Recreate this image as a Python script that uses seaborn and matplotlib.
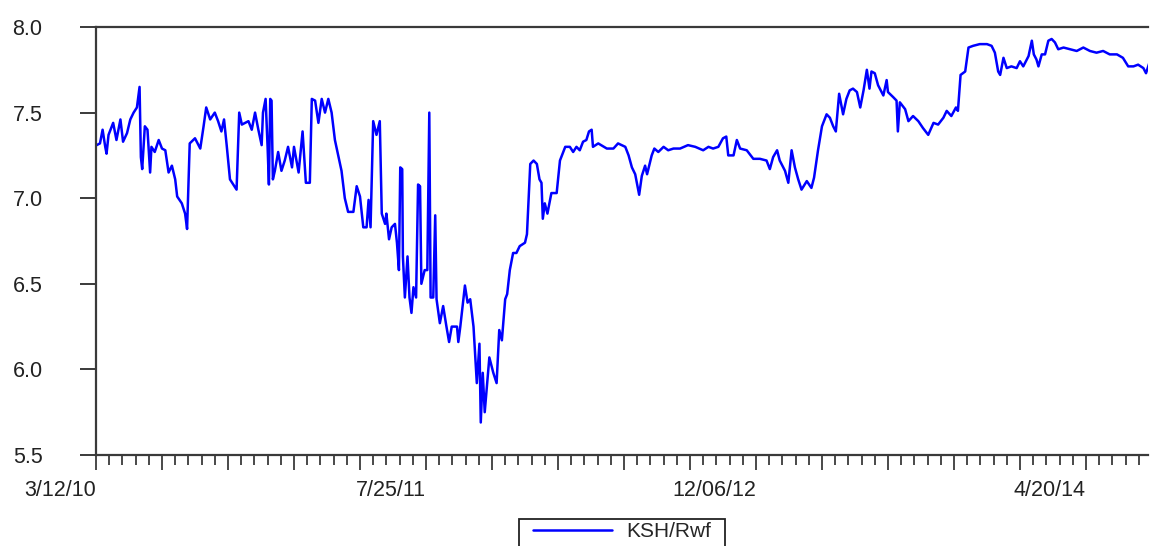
import numpy as np
import pandas as pd
import matplotlib
matplotlib.use("Agg")
import matplotlib.pyplot as plt
from matplotlib.ticker import MultipleLocator, FixedLocator, FixedFormatter
from matplotlib.patches import Rectangle
import seaborn as sns

# ---- data ----
start_date = "2010-03-12"
series_name = "KSH/Rwf"

day_offset = [
    1, 6, 10, 14, 16, 19, 24, 26, 31, 37, 41, 47, 52, 57, 62, 66, 68, 70, 74, 78,
    82, 84, 89, 95, 100, 105, 110, 115, 120, 123, 130, 135, 138, 142, 150, 158, 163, 167, 173, 180,
    185, 190, 194, 198, 203, 208, 213, 217, 221, 226, 231, 236, 241, 246, 251, 253, 257, 260, 262, 264,
    266, 268, 271, 276, 281, 286, 291, 297, 300, 307, 313, 318, 324, 327, 332, 337, 342, 347, 352, 357,
    362, 367, 372, 377, 382, 390, 395, 400, 405, 410, 413, 416, 420, 425, 430, 433, 438, 440, 444, 448,
    453, 456, 459, 461, 464, 465, 468, 472, 475, 478, 481, 485, 488, 491, 493, 498, 502, 505, 507, 511,
    514, 516, 521, 526, 531, 535, 539, 547, 549, 552, 559, 563, 567, 572, 577, 581, 583, 586, 589, 596,
    602, 607, 611, 615, 620, 623, 627, 632, 637, 642, 650, 653, 658, 663, 668, 672, 675, 677, 680, 684,
    688, 690, 698, 703, 711, 718, 723, 728, 733, 738, 743, 747, 751, 753, 761, 774, 784, 791, 802, 807,
    812, 817, 823, 827, 832, 835, 842, 846, 852, 860, 867, 875, 885, 897, 908, 920, 928, 935, 943, 950,
    955, 958, 966, 971, 976, 986, 996, 1006, 1016, 1021, 1026, 1032, 1036, 1044, 1049, 1054, 1059, 1064, 1069, 1077,
    1084, 1088, 1094, 1100, 1107, 1112, 1117, 1121, 1126, 1132, 1137, 1142, 1147, 1153, 1158, 1163, 1168, 1172, 1175, 1180,
    1185, 1193, 1198, 1200, 1208, 1213, 1215, 1218, 1226, 1231, 1238, 1246, 1253, 1261, 1269, 1276, 1284, 1289, 1296, 1303,
    1306, 1310, 1317, 1322, 1329, 1339, 1350, 1357, 1362, 1367, 1370, 1375, 1380, 1387, 1395, 1400, 1405, 1413, 1418, 1421,
    1425, 1428, 1433, 1438, 1443, 1448, 1453, 1458, 1466, 1476, 1486, 1496, 1506, 1516, 1526, 1536, 1547, 1556, 1564, 1572,
    1579, 1587, 1591, 1596,
]

ksh_rwf = [
    7.31, 7.32, 7.40, 7.30, 7.26, 7.37, 7.42, 7.44, 7.34, 7.46, 7.33, 7.38, 7.46, 7.50, 7.53, 7.65, 7.24, 7.17, 7.42, 7.40,
    7.15, 7.30, 7.27, 7.34, 7.29, 7.28, 7.15, 7.19, 7.11, 7.01, 6.97, 6.91, 6.82, 7.32, 7.35, 7.29, 7.42, 7.53, 7.46, 7.50,
    7.45, 7.39, 7.46, 7.31, 7.11, 7.08, 7.05, 7.50, 7.43, 7.44, 7.45, 7.40, 7.50, 7.40, 7.31, 7.50, 7.58, 7.30, 7.08, 7.58,
    7.57, 7.11, 7.16, 7.27, 7.16, 7.22, 7.30, 7.18, 7.30, 7.15, 7.39, 7.09, 7.09, 7.58, 7.57, 7.44, 7.58, 7.50, 7.58, 7.50,
    7.34, 7.25, 7.16, 7.00, 6.92, 6.92, 7.07, 7.01, 6.83, 6.83, 6.99, 6.83, 7.45, 7.37, 7.45, 6.91, 6.85, 6.91, 6.76, 6.83,
    6.85, 6.74, 6.58, 7.18, 7.17, 6.66, 6.42, 6.66, 6.42, 6.33, 6.48, 6.42, 7.08, 7.07, 6.50, 6.58, 6.58, 7.50, 6.42, 6.42,
    6.90, 6.41, 6.27, 6.37, 6.25, 6.16, 6.25, 6.25, 6.16, 6.25, 6.49, 6.39, 6.41, 6.25, 5.92, 6.15, 5.69, 5.98, 5.75, 6.07,
    5.98, 5.92, 6.23, 6.17, 6.41, 6.44, 6.58, 6.68, 6.68, 6.72, 6.74, 6.79, 7.20, 7.22, 7.20, 7.11, 7.09, 6.88, 6.97, 6.91,
    6.99, 7.03, 7.03, 7.22, 7.30, 7.30, 7.27, 7.30, 7.28, 7.33, 7.34, 7.39, 7.40, 7.30, 7.32, 7.29, 7.29, 7.32, 7.30, 7.25,
    7.18, 7.14, 7.02, 7.13, 7.19, 7.14, 7.25, 7.29, 7.27, 7.30, 7.28, 7.29, 7.29, 7.31, 7.30, 7.28, 7.30, 7.29, 7.30, 7.35,
    7.36, 7.25, 7.25, 7.34, 7.29, 7.28, 7.23, 7.23, 7.22, 7.17, 7.24, 7.28, 7.22, 7.16, 7.09, 7.28, 7.18, 7.11, 7.05, 7.10,
    7.06, 7.12, 7.28, 7.42, 7.49, 7.47, 7.42, 7.39, 7.61, 7.49, 7.58, 7.63, 7.64, 7.62, 7.53, 7.63, 7.75, 7.64, 7.74, 7.73,
    7.66, 7.60, 7.69, 7.62, 7.59, 7.57, 7.39, 7.56, 7.52, 7.45, 7.48, 7.45, 7.41, 7.37, 7.44, 7.43, 7.47, 7.51, 7.48, 7.53,
    7.51, 7.72, 7.74, 7.88, 7.89, 7.90, 7.90, 7.89, 7.85, 7.74, 7.72, 7.82, 7.76, 7.77, 7.76, 7.80, 7.77, 7.83, 7.92, 7.84,
    7.81, 7.77, 7.84, 7.84, 7.92, 7.93, 7.91, 7.87, 7.88, 7.87, 7.86, 7.88, 7.86, 7.85, 7.86, 7.84, 7.84, 7.82, 7.77, 7.77,
    7.78, 7.76, 7.73, 7.79,
]

x_label_days = [0, 500, 1000, 1500]
x_labels = ["3/12/10", "7/25/11", "12/06/12", "4/20/14"]
y_ticks = [5.5, 6.0, 6.5, 7.0, 7.5, 8.0]

df = pd.DataFrame({"day": day_offset, series_name: ksh_rwf})

# ---- styling ----
sns.set_theme(style="white")
plt.rcParams["font.family"] = ["Liberation Sans", "DejaVu Sans"]

W, H = 1150, 546
fig = plt.figure(figsize=(W / 100, H / 100), dpi=100)
ax = fig.add_axes([96 / W, 1 - 455 / H, (1148 - 96) / W, (455 - 27) / H])

sns.lineplot(data=df, x="day", y=series_name, ax=ax, color="#0000FF",
             linewidth=1.8, label=series_name, legend=False)

ax.set_xlim(0, 1594)
ax.set_ylim(5.5, 8.0)
ax.set_xlabel("")
ax.set_ylabel("")

spine_c = "#3a3a3a"
for side in ["left", "bottom", "top"]:
    ax.spines[side].set_visible(True)
    ax.spines[side].set_color(spine_c)
    ax.spines[side].set_linewidth(1.6)
ax.spines["right"].set_visible(False)

# y axis
ax.yaxis.set_major_locator(FixedLocator(y_ticks))
ax.yaxis.set_major_formatter(FixedFormatter([f"{v:.1f}" for v in y_ticks]))
ax.tick_params(axis="y", which="major", direction="out", length=11.5, width=1.4,
               color=spine_c, pad=27, labelsize=15.5, labelcolor="#222222", left=True)

# x axis: major every 100 days, minor every 20 days
major_days = list(range(0, 1600, 100))
major_labels = [x_labels[x_label_days.index(d)] if d in x_label_days else "" for d in major_days]
ax.xaxis.set_major_locator(FixedLocator(major_days))
ax.xaxis.set_major_formatter(FixedFormatter(major_labels))
ax.xaxis.set_minor_locator(MultipleLocator(20))
ax.tick_params(axis="x", which="major", direction="out", length=11, width=1.3,
               color=spine_c, pad=7, labelsize=15.5, labelcolor="#222222", bottom=True)
ax.tick_params(axis="x", which="minor", direction="out", length=7, width=1.3,
               color=spine_c, bottom=True)
for lbl in ax.get_xticklabels():
    lbl.set_horizontalalignment("right")

ax.grid(False)

# legend (frame drawn separately so it runs off the bottom edge like the reference)
handles, labels = ax.get_legend_handles_labels()
leg = fig.legend(handles, labels, loc="upper center", bbox_to_anchor=(622 / W, 1 - 522 / H),
                 frameon=False, fontsize=15, handlelength=3.8,
                 borderpad=0.0, handletextpad=0.7, borderaxespad=0)

fig.canvas.draw()
bb = leg.get_window_extent().transformed(fig.transFigure.inverted())
pad_x = 14 / W
top = 1 - 519 / H
frame = Rectangle((bb.x0 - pad_x, -0.05), bb.width + 2 * pad_x, top + 0.05,
                  transform=fig.transFigure, fill=False, edgecolor="#222222",
                  linewidth=1.3, clip_on=False)
fig.add_artist(frame)

fig.savefig("out.png", dpi=100)
